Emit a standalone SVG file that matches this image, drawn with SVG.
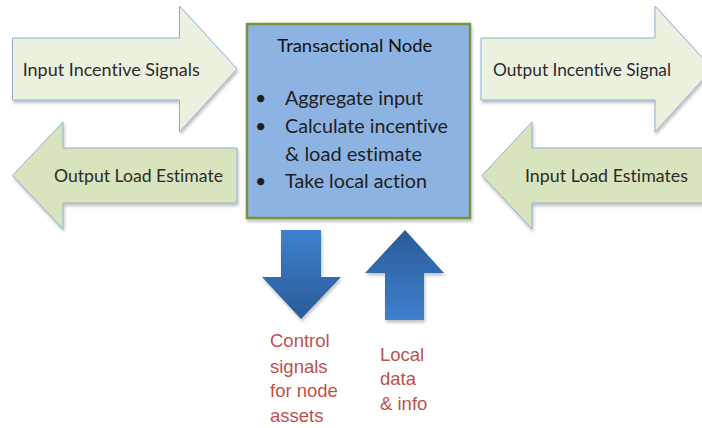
<svg xmlns="http://www.w3.org/2000/svg" width="702" height="428" viewBox="0 0 702 428">
<defs>
<style>
text{font-variant-ligatures:none;}
.arrowPale{fill:#EBF1DF;stroke:#8EAFD6;stroke-width:1;}
.arrowGreen{fill:#D8E4BD;stroke:#8EAFD6;stroke-width:1;}
.lbl{font-family:Lato,"Liberation Sans",sans-serif;font-size:18px;fill:#2B2B2B;}
.box{fill:#8DB3E2;stroke:#77933C;stroke-width:2.5;}
.title{font-family:Lato,"Liberation Sans",sans-serif;font-size:16.5px;fill:#111111;}
.bul{font-family:Lato,"Liberation Sans",sans-serif;font-size:19.6px;fill:#1F1F1F;}
.red{font-family:"Liberation Sans",Arial,sans-serif;font-size:18.5px;fill:#C0504D;}
</style>
<filter id="sh" x="-10%" y="-10%" width="130%" height="130%">
<feDropShadow dx="1" dy="2.5" stdDeviation="1.5" flood-color="#000" flood-opacity="0.25"/>
</filter>
<linearGradient id="gDown" x1="0" y1="0" x2="0" y2="1">
<stop offset="0" stop-color="#3F80CE"/>
<stop offset="1" stop-color="#2A5B97"/>
</linearGradient>
<linearGradient id="gUp" x1="0" y1="0" x2="0" y2="1">
<stop offset="0" stop-color="#2A5B97"/>
<stop offset="1" stop-color="#3F80CE"/>
</linearGradient>
</defs>
<rect width="702" height="428" fill="#FFFFFF"/>

<g id="input-incentive-signals">
<polygon class="arrowPale" filter="url(#sh)" points="12.5,38 179.5,38 179.5,6 237,69 179.5,132 179.5,100 12.5,100"/>
<text class="lbl" x="22.7" y="76" textLength="177" lengthAdjust="spacingAndGlyphs">Input Incentive Signals</text>
</g>

<g id="output-incentive-signal">
<polygon class="arrowPale" filter="url(#sh)" points="481,38 655,38 655,6 712.5,69 655,132 655,100 481,100"/>
<text class="lbl" x="493" y="76" textLength="178" lengthAdjust="spacingAndGlyphs">Output Incentive Signal</text>
</g>

<g id="output-load-estimate">
<polygon class="arrowGreen" filter="url(#sh)" points="237,148 63,148 63,122 12.5,175.5 63,229 63,203 237,203"/>
<text class="lbl" x="54" y="182" textLength="169" lengthAdjust="spacingAndGlyphs">Output Load Estimate</text>
</g>

<g id="input-load-estimates">
<polygon class="arrowGreen" filter="url(#sh)" points="720,148 532,148 532,122 482,175.5 532,229 532,203 720,203"/>
<text class="lbl" x="525" y="182" textLength="163" lengthAdjust="spacingAndGlyphs">Input Load Estimates</text>
</g>

<g id="transactional-node">
<rect class="box" filter="url(#sh)" x="247" y="24" width="223" height="194"/>
<text class="title" x="277.3" y="51.7" textLength="155" lengthAdjust="spacingAndGlyphs">Transactional Node</text>
<text class="bul" x="255" y="105">•</text>
<text class="bul" x="285" y="105" textLength="138" lengthAdjust="spacingAndGlyphs">Aggregate input</text>
<text class="bul" x="255" y="133.3">•</text>
<text class="bul" x="285" y="133.3" textLength="163" lengthAdjust="spacingAndGlyphs">Calculate incentive</text>
<text class="bul" x="285" y="161" textLength="137" lengthAdjust="spacingAndGlyphs">&amp; load estimate</text>
<text class="bul" x="255" y="188.3">•</text>
<text class="bul" x="285" y="188.3" textLength="142" lengthAdjust="spacingAndGlyphs">Take local action</text>
</g>

<g id="connectors">
<polygon id="control-arrow" fill="url(#gDown)" filter="url(#sh)" points="281,230 321,230 321,277 341,277 301,319 262,277 281,277"/>
<polygon id="local-data-arrow" fill="url(#gUp)" filter="url(#sh)" points="405,230 444,273 424,273 424,320 385,320 385,273 365,273"/>
</g>

<g id="control-signals-label">
<text class="red" x="270" y="347">Control</text>
<text class="red" x="270" y="372.5">signals</text>
<text class="red" x="270" y="397">for node</text>
<text class="red" x="270" y="421.5">assets</text>
</g>

<g id="local-data-label">
<text class="red" x="380" y="360.5">Local</text>
<text class="red" x="380" y="385">data</text>
<text class="red" x="380" y="410">&amp; info</text>
</g>
</svg>
